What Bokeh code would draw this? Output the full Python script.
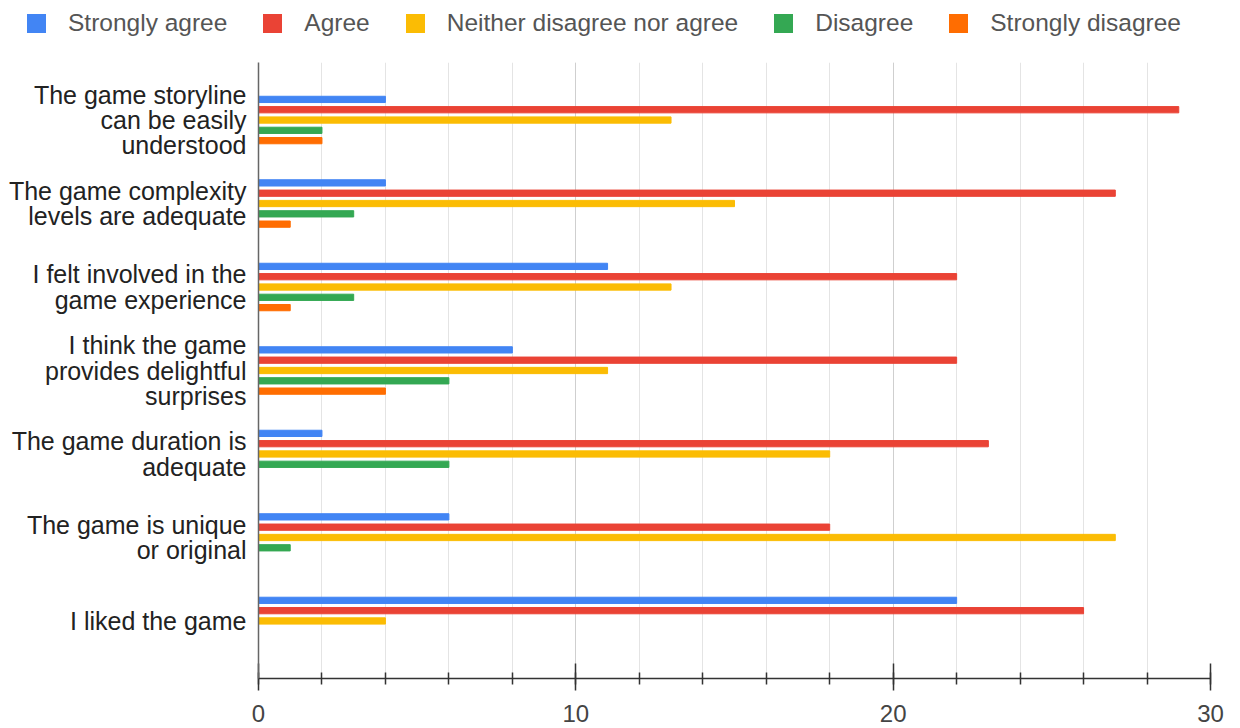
from bokeh.plotting import figure
from bokeh.models import ColumnDataSource, FactorRange, SingleIntervalTicker, Div
from bokeh.layouts import column
from bokeh.transform import dodge
from bokeh.embed import file_html
from bokeh.resources import INLINE

# Survey statements (top to bottom) and response counts per answer
questions = [
    "The game storyline\ncan be easily\nunderstood",
    "The game complexity\nlevels are adequate",
    "I felt involved in the\ngame experience",
    "I think the game\nprovides delightful\nsurprises",
    "The game duration is\nadequate",
    "The game is unique\nor original",
    "I liked the game",
]
strongly_agree = [4, 4, 11, 8, 2, 6, 22]
agree = [29, 27, 22, 22, 23, 18, 26]
neither = [13, 15, 13, 11, 18, 27, 4]
disagree = [2, 3, 3, 6, 6, 1, 0]
strongly_disagree = [2, 1, 1, 4, 0, 0, 0]

series_names = ["Strongly agree", "Agree", "Neither disagree nor agree",
                "Disagree", "Strongly disagree"]
series_cols = ["sa", "a", "n", "d", "sd"]
colors = ["#4285F4", "#EA4335", "#FBBC04", "#34A853", "#FF6D01"]
x_ticks = [0, 10, 20, 30]

source = ColumnDataSource(dict(
    q=questions, sa=strongly_agree, a=agree, n=neither,
    d=disagree, sd=strongly_disagree,
))

FONT = "Liberation Sans"
LEGEND_H = 46

# ---- legend strip across the top ------------------------------------------
swatches = "".join(
    f'<span style="display:inline-block;width:19px;height:19px;'
    f'background:{c};margin-right:22px;flex:none"></span>'
    f'<span style="margin-right:36px;white-space:nowrap">{n}</span>'
    for n, c in zip(series_names, colors)
)
legend_div = Div(
    text=(f'<div style="display:flex;align-items:center;height:{LEGEND_H}px;'
          f'padding-left:27px;font-family:\'{FONT}\';font-size:24.5px;'
          f'color:#555555;line-height:1">{swatches}</div>'),
    width=1240, height=LEGEND_H, margin=0,
)

# ---- main bar chart -------------------------------------------------------
p = figure(
    width=1240, height=728 - LEGEND_H,
    y_range=FactorRange(*reversed(questions), range_padding=0.054),
    x_range=(0, 30),
    output_backend="svg", toolbar_location=None,
    min_border_left=258, min_border_right=30,
    min_border_top=62 - LEGEND_H, min_border_bottom=50,
)
p.outline_line_color = None
p.background_fill_color = "white"

offsets = [0.247, 0.1235, 0.0, -0.1235, -0.247]
for col, color, off in zip(series_cols, colors, offsets):
    p.hbar(y=dodge("q", off, range=p.y_range), right=col, left=0,
           height=0.075, source=source, color=color)

# x axis: labelled every 10, minor ticks / grid every 2
ticker = SingleIntervalTicker(interval=10, num_minor_ticks=5)
p.xaxis.ticker = ticker
p.xaxis.major_label_overrides = {t: str(t) for t in x_ticks}
p.xaxis.axis_line_color = "#333333"
p.xaxis.axis_line_width = 1.5
p.xaxis.major_tick_line_color = "#333333"
p.xaxis.major_tick_line_width = 1.5
p.xaxis.major_tick_in = 15
p.xaxis.major_tick_out = 12
p.xaxis.minor_tick_line_color = "#333333"
p.xaxis.minor_tick_line_width = 1.5
p.xaxis.minor_tick_in = 6
p.xaxis.minor_tick_out = 6
p.xaxis.major_label_text_font = FONT
p.xaxis.major_label_text_font_size = "24px"
p.xaxis.major_label_text_color = "#444444"
p.xaxis.major_label_standoff = 14

p.xgrid.ticker = ticker
p.xgrid.grid_line_color = "#cfcfcf"
p.xgrid.minor_grid_line_color = "#e4e4e4"
p.ygrid.grid_line_color = None

p.yaxis.axis_line_color = "#666666"
p.yaxis.axis_line_width = 1.5
p.yaxis.major_tick_line_color = None
p.yaxis.minor_tick_line_color = None
p.yaxis.major_label_text_font = FONT
p.yaxis.major_label_text_font_size = "25px"
p.yaxis.major_label_text_color = "#222222"
p.yaxis.major_label_text_line_height = 0.9
p.yaxis.major_label_standoff = 6

open("out.html", "w").write(file_html(column(legend_div, p, spacing=0), INLINE))
